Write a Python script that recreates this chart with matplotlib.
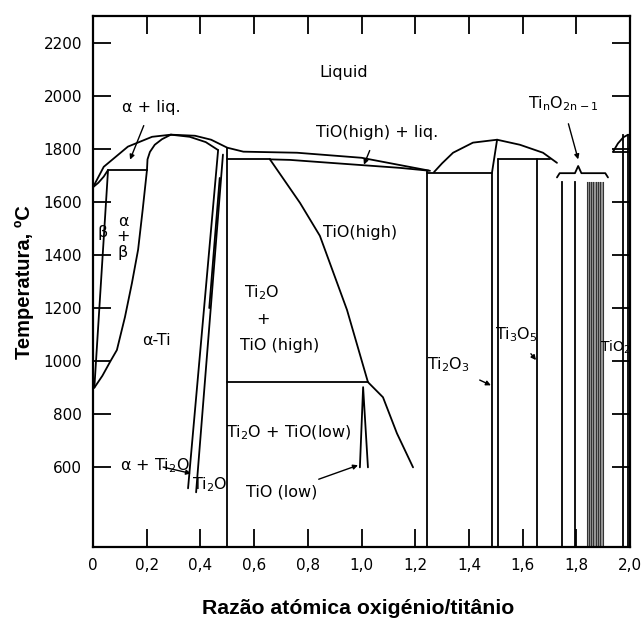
import matplotlib
matplotlib.use("Agg")
import matplotlib.pyplot as plt
from matplotlib import font_manager
import numpy as np

# ---- boundaries of the Ti-O diagram (x = O/Ti ratio, T in C) ----
liq_x = [0.0, 0.04, 0.13, 0.22, 0.29, 0.38, 0.44, 0.50, 0.56, 0.76, 1.00, 1.25]
liq_t = [1655, 1732, 1808, 1845, 1853, 1849, 1834, 1804, 1789, 1785, 1766, 1718]

bsol_x = [0.0, 0.02, 0.04, 0.056]
bsol_t = [1655, 1672, 1695, 1720]

perit_x = [0.056, 0.201]
perit_t = [1720, 1720]

asol_l_x = [0.201, 0.203, 0.212, 0.230, 0.257, 0.29]
asol_l_t = [1720, 1760, 1788, 1815, 1836, 1853]

asol_r_x = [0.29, 0.36, 0.42, 0.466]
asol_r_t = [1853, 1845, 1825, 1795]

atr_x = [0.201, 0.185, 0.168, 0.145, 0.119, 0.089, 0.065, 0.035, 0.005]
atr_t = [1720, 1570, 1420, 1294, 1166, 1042, 1000, 945, 900]

btr_x = [0.056, 0.005]
btr_t = [1720, 900]

ti2o_a_x = [0.466, 0.354]
ti2o_a_t = [1795, 521]
ti2o_b_x = [0.484, 0.384]
ti2o_b_t = [1778, 506]
ti2o_c_x = [0.472, 0.433]
ti2o_c_t = [1690, 1200]

v05_x = [0.5, 0.5]
v05_t = [1804, 300]

h1760_x = [0.5, 0.66]
h1760_t = [1760, 1760]

tiosol_x = [0.659, 0.734, 0.883, 1.006, 1.143, 1.255]
tiosol_t = [1760, 1758, 1747, 1738, 1728, 1717]

tiohi_x = [0.659, 0.771, 0.845, 0.946, 1.024, 1.080, 1.132, 1.192]
tiohi_t = [1760, 1596, 1472, 1193, 921, 864, 728, 600]

h920_x = [0.5, 1.024]
h920_t = [921, 921]

tiolow_x = [0.994, 1.006, 1.024]
tiolow_t = [600, 902, 600]

v124_x = [1.244, 1.244]
v124_t = [1716, 300]

h1710_x = [1.244, 1.486]
h1710_t = [1710, 1710]

dome_x = [1.27, 1.30, 1.341, 1.415, 1.505, 1.590, 1.676, 1.728]
dome_t = [1712, 1745, 1785, 1823, 1834, 1815, 1785, 1747]

ti2o3_x = [1.505, 1.486, 1.486]
ti2o3_t = [1834, 1710, 300]
ti2o3b_x = [1.508, 1.508]
ti2o3b_t = [1762, 300]

box_x = [1.508, 1.702]
box_t = [1762, 1762]
ti3o5_x = [1.654, 1.654]
ti3o5_t = [1762, 300]

magneli_x = [1.747, 1.795]
band_x = [1.840, 1.848, 1.856, 1.864, 1.872, 1.880, 1.888, 1.899]
magneli_top = 1676

brace_x = [1.728, 1.738, 1.795, 1.807, 1.819, 1.908, 1.918]
brace_t = [1692, 1708, 1708, 1735, 1708, 1708, 1692]

tio2_x = [1.974, 1.993]
tio2_top = 1853
tio2cap_x = [1.937, 1.955, 1.975, 1.993]
tio2cap_t = [1789, 1820, 1843, 1853]
tio2h_x = [1.937, 1.993]
tio2h_t = [1789, 1789]

# ---- labels: (text, x, T, size) ----
labels = [
    ("Liquid", 0.935, 2087, 11.5),
    ("TiO(high)", 0.994, 1483, 11.5),
    (r"Ti$_\mathregular{2}$O", 0.629, 1257, 11.5),
    ("+", 0.633, 1158, 11.5),
    ("TiO (high)", 0.696, 1060, 11.5),
    (r"Ti$_\mathregular{2}$O + TiO(low)", 0.730, 732, 11.5),
    ("\u03b1-Ti", 0.238, 1079, 11.5),
    ("\u03b2", 0.034, 1483, 11.5),
    ("\u03b1", 0.112, 1525, 11.5),
    ("+", 0.112, 1468, 11.5),
    ("\u03b2", 0.112, 1408, 11.5),
    (r"Ti$_\mathregular{2}$O", 0.436, 536, 11.5),
    (r"TiO$_\mathregular{2}$", 1.946, 1053, 10),
]
# annotated labels: (text, text x, text T, arrow x, arrow T)
notes = [
    ("\u03b1 + liq.", 0.216, 1955, 0.138, 1759),
    ("TiO(high) + liq.", 1.058, 1861, 1.009, 1740),
    ("\u03b1 + Ti$_\\mathregular{2}$O", 0.231, 608, 0.365, 577),
    ("TiO (low)", 0.704, 506, 0.987, 608),
    (r"Ti$_\mathregular{2}$O$_\mathregular{3}$", 1.322, 985, 1.482, 909),
    (r"Ti$_\mathregular{3}$O$_\mathregular{5}$", 1.575, 1098, 1.650, 1004),
    (r"Ti$_\mathregular{n}$O$_\mathregular{2n-1}$", 1.75, 1970, 1.807, 1760),
]

xticks = [0, 0.2, 0.4, 0.6, 0.8, 1.0, 1.2, 1.4, 1.6, 1.8, 2.0]
xtick_labels = ["0", "0,2", "0,4", "0,6", "0,8", "1,0", "1,2", "1,4", "1,6", "1,8", "2,0"]
yticks = [600, 800, 1000, 1200, 1400, 1600, 1800, 2000, 2200]

names = {f.name for f in font_manager.fontManager.ttflist}
if "Liberation Sans Narrow" in names:
    ylab_font = dict(family="Liberation Sans Narrow", size=18, weight="bold")
    xlab_font = dict(family="Liberation Sans Narrow", size=19, weight="bold")
else:
    ylab_font = dict(family="Liberation Sans", size=14.5, weight="bold")
    xlab_font = dict(family="Liberation Sans", size=15.3, weight="bold")

fig = plt.figure(figsize=(6.42, 6.21), dpi=100)
ax = fig.add_axes([93 / 642, 1 - 547 / 621, (630 - 93) / 642, (547 - 16) / 621])

lw = 1.3
curves = [
    (liq_x, liq_t), (bsol_x, bsol_t), (perit_x, perit_t), (asol_l_x, asol_l_t),
    (asol_r_x, asol_r_t), (atr_x, atr_t), (btr_x, btr_t), (ti2o_a_x, ti2o_a_t),
    (ti2o_b_x, ti2o_b_t), (ti2o_c_x, ti2o_c_t), (v05_x, v05_t), (h1760_x, h1760_t),
    (tiosol_x, tiosol_t), (tiohi_x, tiohi_t), (h920_x, h920_t), (tiolow_x, tiolow_t),
    (v124_x, v124_t), (h1710_x, h1710_t), (dome_x, dome_t), (ti2o3_x, ti2o3_t),
    (ti2o3b_x, ti2o3b_t), (box_x, box_t), (ti3o5_x, ti3o5_t), (brace_x, brace_t),
    (tio2cap_x, tio2cap_t), (tio2h_x, tio2h_t),
]
for cx, ct in curves:
    ax.plot(cx, ct, color="black", lw=lw, solid_capstyle="round")

for mx in magneli_x:
    ax.plot([mx, mx], [300, magneli_top], color="black", lw=lw)
ax.fill_between([band_x[0], band_x[-1]], 300, magneli_top, color="#9a9a9a", lw=0)
for bx in band_x:
    ax.plot([bx, bx], [300, magneli_top], color="#333333", lw=0.8)
for tx in tio2_x:
    ax.plot([tx, tx], [300, tio2_top], color="black", lw=lw)

for txt, x, t, fs in labels:
    ax.text(x, t, txt, ha="center", va="center", fontsize=fs)

for txt, x, t, ax_, at in notes:
    ax.annotate(txt, xy=(ax_, at), xytext=(x, t), ha="center", va="center", fontsize=11.5,
                arrowprops=dict(arrowstyle="-|>", color="black", lw=1.0,
                                mutation_scale=7, shrinkA=6, shrinkB=0))

ax.set_xlim(0, 2.0)
ax.set_ylim(300, 2300)
ax.set_xticks(xticks)
ax.set_xticklabels(xtick_labels)
ax.set_yticks(yticks)
ax.tick_params(direction="in", length=13, width=1.3, top=True, right=True,
               labelsize=11, pad=8)
for s in ax.spines.values():
    s.set_linewidth(1.6)

fig.text(24 / 642, 1 - 282 / 621, "Temperatura, \u00baC", rotation=90, ha="center",
         va="center", **ylab_font)
fig.text(358 / 642, 1 - 608 / 621, "Razão atómica oxigénio/titânio", ha="center",
         va="center", **xlab_font)

fig.savefig("out.png", dpi=100)
